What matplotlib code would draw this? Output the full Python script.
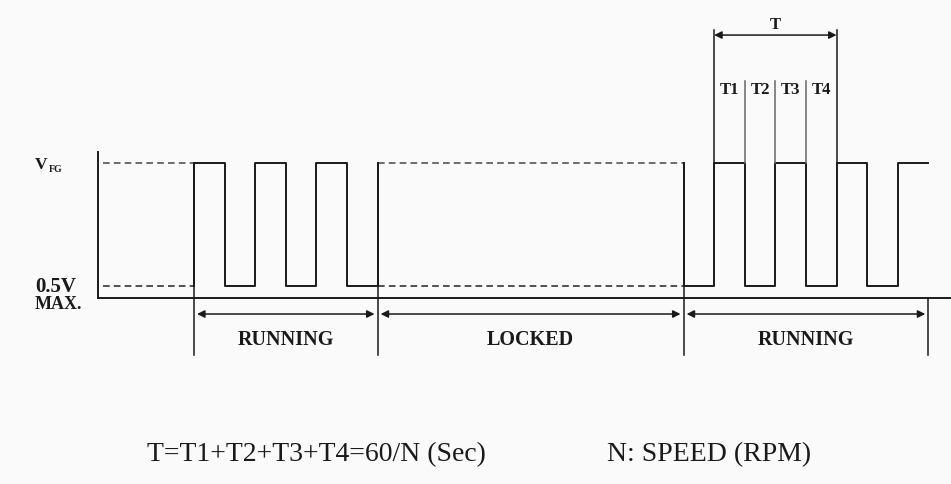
import matplotlib
matplotlib.use("Agg")
import matplotlib.pyplot as plt

# time in half-periods of the FG signal, level 0 = low (0.5V max), 1 = VFG
run1_edges = [0, 1, 2, 3, 4, 5, 6]
run1_levels = [1, 0, 1, 0, 1, 0]
run2_edges = [16, 17, 18, 19, 20, 21, 22, 23, 24]
run2_levels = [0, 1, 0, 1, 0, 1, 0, 1]

axis_start = -3.14
axis_end = 24.7
locked_span = [6, 16]
phase_marks = [0, 6, 16, 24]
phase_names = ["RUNNING", "LOCKED", "RUNNING"]
period_edges = [17, 18, 19, 20, 21]
period_names = ["T1", "T2", "T3", "T4"]

ink = "#1a1a1a"
serif = ["Liberation Serif", "DejaVu Serif"]


def steps(edges, levels, start, end):
    xs, ys = [edges[0]], [start]
    for i, lv in enumerate(levels):
        xs += [edges[i], edges[i + 1]]
        ys += [lv, lv]
    if end is not None:
        xs.append(edges[-1])
        ys.append(end)
    return xs, ys


fig = plt.figure(figsize=(9.51, 4.84), dpi=100, facecolor="#fafafa")
ax = fig.add_axes([0, 0, 1, 1])
ax.set_facecolor("#fafafa")
ax.set_xlim(-6.34, 24.74)
ax.set_ylim(-1.61, 2.325)
ax.axis("off")

# axes of the timing diagram
ax.plot([axis_start, axis_start], [-0.1, 1.09], color=ink, lw=1.4)
ax.plot([axis_start, axis_end], [-0.1, -0.1], color=ink, lw=1.4)

# undefined / locked levels drawn dashed
for a, b in [(axis_start + 0.15, run1_edges[0]), tuple(locked_span)]:
    ax.plot([a, b], [1, 1], color="#555555", lw=1.2, ls=(0, (4, 2.5)))
    ax.plot([a, b], [0, 0], color="#333333", lw=1.2, ls=(0, (4, 2.5)))

# waveform
x, y = steps(run1_edges, run1_levels, 0, 1)
ax.plot(x, y, color=ink, lw=1.4)
x, y = steps(run2_edges, run2_levels, 1, None)
ax.plot(x, y, color=ink, lw=1.4)

# phase markers with double arrows
for m in phase_marks:
    top = -0.1 if m == phase_marks[-1] else 1
    ax.plot([m, m], [top, -0.56], color=ink, lw=1.1)
for i, name in enumerate(phase_names):
    a, b = phase_marks[i], phase_marks[i + 1]
    ax.annotate("", xy=(b - 0.1, -0.228), xytext=(a + 0.1, -0.228),
                arrowprops=dict(arrowstyle="<|-|>", color=ink, lw=1.1,
                                mutation_scale=11, shrinkA=0, shrinkB=0))
    ax.text((a + b) / 2, -0.44, name, ha="center", va="center",
            fontsize=14.5, fontweight="bold", family=serif, color=ink)

# period T markers
for i, e in enumerate(period_edges):
    top = 2.08 if i in (0, len(period_edges) - 1) else 1.67
    ax.plot([e, e], [1, top], color=ink if top > 2 else "#666666", lw=1.1)
ax.annotate("", xy=(period_edges[-1], 2.04), xytext=(period_edges[0], 2.04),
            arrowprops=dict(arrowstyle="<|-|>", color=ink, lw=1.1,
                            mutation_scale=11, shrinkA=0, shrinkB=0))
ax.text((period_edges[0] + period_edges[-1]) / 2, 2.12, "T", ha="center",
        va="center", fontsize=12, fontweight="bold", family=serif, color=ink)
for i, name in enumerate(period_names):
    ax.text((period_edges[i] + period_edges[i + 1]) / 2, 1.59, name,
            ha="center", va="center", fontsize=12, fontweight="bold",
            family=serif, color=ink)

# level labels
ax.text(-5.2, 0.98, "V", ha="left", va="center", fontsize=12.5,
        fontweight="bold", family=serif, color=ink)
ax.text(-4.76, 0.95, "FG", ha="left", va="center", fontsize=7,
        fontweight="bold", family=serif, color=ink)
ax.text(-5.2, -0.01, "0.5V", ha="left", va="center", fontsize=15,
        fontweight="bold", family=serif, color=ink)
ax.text(-5.2, -0.15, "MAX.", ha="left", va="center", fontsize=13,
        fontweight="bold", family=serif, color=ink)

# formula
ax.text(-1.55, -1.37, "T=T1+T2+T3+T4=60/N (Sec)", ha="left", va="center",
        fontsize=20, family=serif, color=ink)
ax.text(13.5, -1.37, "N: SPEED (RPM)", ha="left", va="center",
        fontsize=20, family=serif, color=ink)

fig.savefig("out.png", dpi=100, facecolor=fig.get_facecolor())
